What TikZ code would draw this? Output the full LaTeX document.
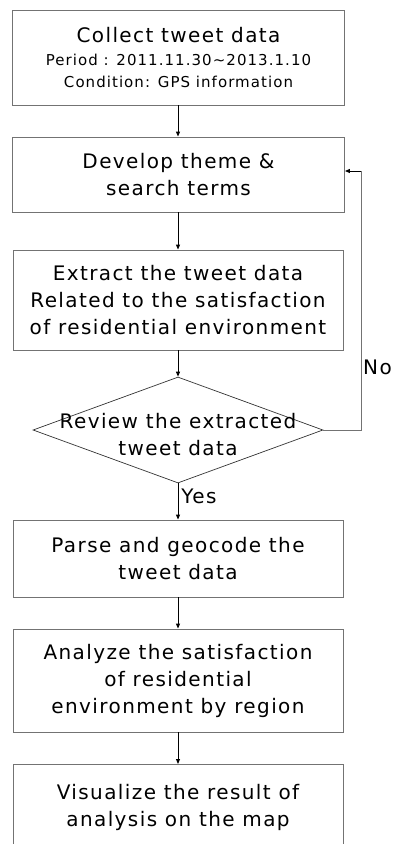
\documentclass[tikz,border=0pt]{standalone}
\usepackage{fontspec}
\setmainfont{DejaVu Sans}[LetterSpace=7]
\usetikzlibrary{shapes.geometric,arrows.meta}
\begin{document}
\begin{tikzpicture}[x=1pt,y=-1pt,
  box/.style={draw=black!55, line width=0.9pt, minimum width=332pt, inner sep=0pt, align=center,
    font=\fontsize{20}{27}\selectfont},
  arr/.style={-{Triangle[length=5pt,width=4pt]}, line width=0.9pt, black},
  loopline/.style={draw=black!55, line width=0.9pt},
  lbl/.style={font=\fontsize{20}{23}\selectfont, inner sep=0pt}]
\useasboundingbox (0,0) rectangle (396,844);
\node[box, minimum height=95pt] (b1) at (178.5,57.5)
  {Collect tweet data\\[-4pt]\fontsize{15}{19}\selectfont Period : 2011.11.30\textasciitilde2013.1.10\\[-5pt]\fontsize{15}{19}\selectfont Condition: GPS information};
\node[box, minimum height=75pt] (b2) at (178.5,174.5) {Develop theme \&\\search terms};
\node[box, minimum height=100pt, minimum width=330pt] (b3) at (178,300) {Extract the tweet data\\Related to the satisfaction\\of residential environment};
\node[draw=black!80, line width=0.7pt, diamond, minimum width=290pt, minimum height=106pt, inner sep=0pt,
  label={[font=\fontsize{20}{27}\selectfont, align=center, yshift=-5pt]center:Review the extracted\\tweet data}] (d) at (178,430) {};
\node[box, minimum height=77pt, minimum width=330pt] (b4) at (178,558.5) {Parse and geocode the\\tweet data};
\node[box, minimum height=103pt, minimum width=330pt] (b5) at (178,680.5) {Analyze the satisfaction\\of residential\\environment by region};
\node[box, minimum height=86pt, minimum width=330pt, anchor=north] (b6) at (178,764) {Visualize the result of\\analysis on the map};
\draw[arr] (b1.south -| d.north) -- (b2.north -| d.north);
\draw[arr] (b2.south -| d.north) -- (b3.north -| d.north);
\draw[arr] (b3.south -| d.north) -- (d.north);
\draw[arr] (d.south) -- (b4.north -| d.south) node[lbl, pos=0.35, anchor=west, xshift=3pt] {Yes};
\draw[arr] (b4.south -| d.north) -- (b5.north -| d.north);
\draw[arr] (b5.south -| d.north) -- (b6.north -| d.north);
\coordinate (c1) at (361,430);
\coordinate (c2) at (361,171);
\draw[loopline] (d.east) -- (c1) -- (c2);
\draw[arr] (c2) -- (c2 -| b2.east);
\node[lbl, anchor=west] (no) at (363,367) {No};
\end{tikzpicture}
\end{document}
